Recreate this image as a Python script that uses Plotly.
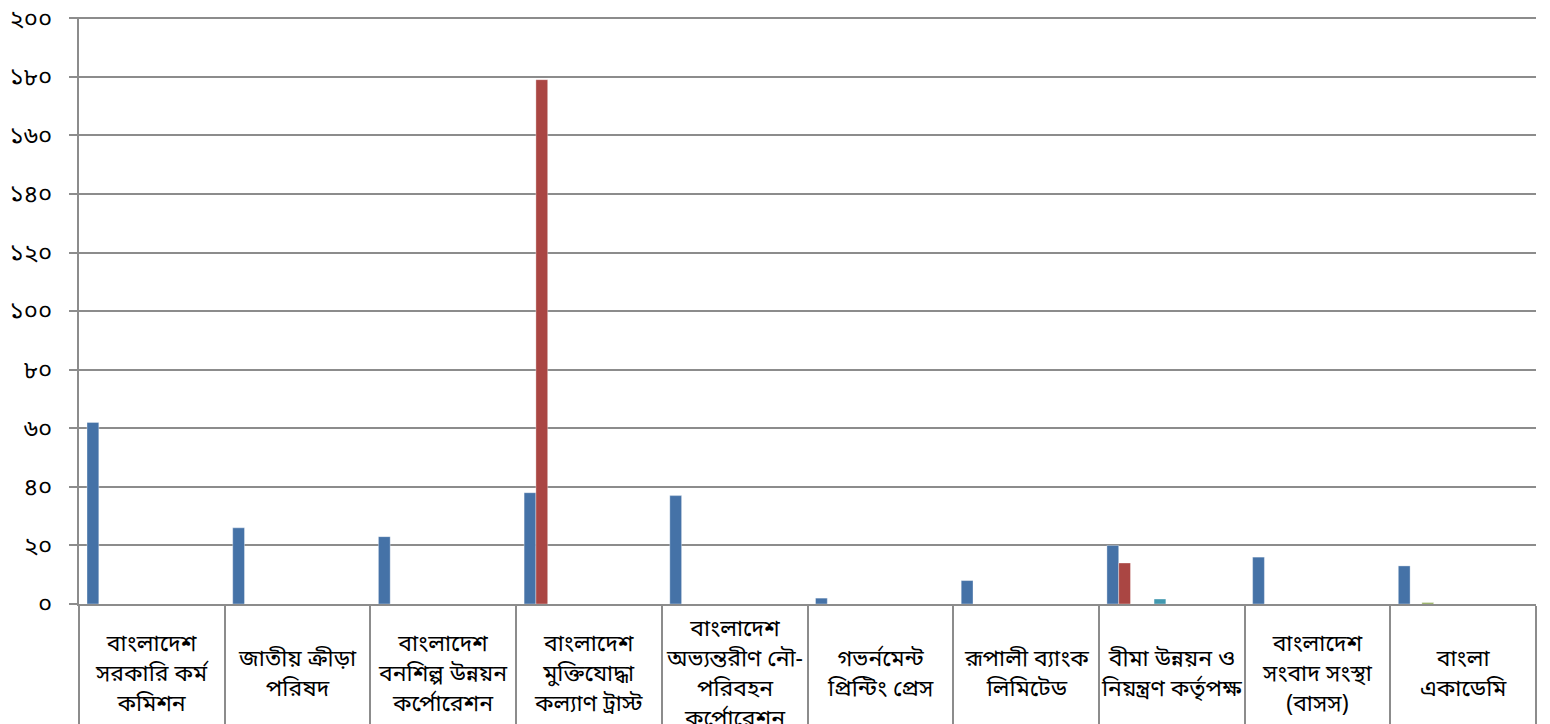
import plotly.graph_objects as go

categories = [
    "বাংলাদেশ<br>সরকারি কর্ম<br>কমিশন",
    "জাতীয় ক্রীড়া<br>পরিষদ",
    "বাংলাদেশ<br>বনশিল্প উন্নয়ন<br>কর্পোরেশন",
    "বাংলাদেশ<br>মুক্তিযোদ্ধা<br>কল্যাণ ট্রাস্ট",
    "বাংলাদেশ<br>অভ্যন্তরীণ নৌ-<br>পরিবহন<br>কর্পোরেশন",
    "গভর্নমেন্ট<br>প্রিন্টিং প্রেস",
    "রূপালী ব্যাংক<br>লিমিটেড",
    "বীমা উন্নয়ন ও<br>নিয়ন্ত্রণ কর্তৃপক্ষ",
    "বাংলাদেশ<br>সংবাদ সংস্থা<br>(বাসস)",
    "বাংলা<br>একাডেমি",
]

series_names = ["সিরিজ ১", "সিরিজ ২", "সিরিজ ৩", "সিরিজ ৪", "সিরিজ ৫", "সিরিজ ৬",
                "সিরিজ ৭", "সিরিজ ৮", "সিরিজ ৯", "সিরিজ ১০", "সিরিজ ১১"]

s1 = [62, 26, 23, 38, 37, 2, 8, 20, 16, 13]
s2 = [0, 0, 0, 179, 0, 0, 0, 14, 0, 0]
s3 = [0, 0, 0, 0, 0, 0, 0, 0, 0, 0.5]
s4 = [0, 0, 0, 0, 0, 0, 0, 0, 0, 0]
s5 = [0, 0, 0, 0, 0, 0, 0, 1.7, 0, 0]
s6 = [0, 0, 0, 0, 0, 0, 0, 0, 0, 0]
s7 = [0, 0, 0, 0, 0, 0, 0, 0, 0, 0]
s8 = [0, 0, 0, 0, 0, 0, 0, 0, 0, 0]
s9 = [0, 0, 0, 0, 0, 0, 0, 0, 0, 0]
s10 = [0, 0, 0, 0, 0, 0, 0, 0, 0, 0]
s11 = [0, 0, 0, 0, 0, 0, 0, 0, 0, 0]
all_series = [s1, s2, s3, s4, s5, s6, s7, s8, s9, s10, s11]

colors = ["#4572A7", "#AA4643", "#89A54E", "#71588F", "#4198AF", "#DB843D",
          "#93A9CF", "#D19392", "#B9CD96", "#A99BBD", "#91C3D5"]

y_tickvals = [0, 20, 40, 60, 80, 100, 120, 140, 160, 180, 200]
y_ticktext = ["০", "২০", "৪০", "৬০", "৮০", "১০০", "১২০", "১৪০", "১৬০", "১৮০", "২০০"]

BN_FONT = "Vrinda, 'Nirmala UI', 'Noto Sans Bengali', 'Lohit Bengali', 'Noto Serif Bengali', sans-serif"

fig = go.Figure()
for name, vals, col in zip(series_names, all_series, colors):
    fig.add_trace(go.Bar(
        x=categories, y=vals, name=name,
        marker=dict(color=col, line=dict(color="rgba(255,255,255,0.35)", width=1)),
        showlegend=False,
    ))

for cat in categories:
    fig.add_annotation(
        x=cat, y=-0.121, xref="x", yref="paper",
        text=cat, showarrow=False, yanchor="middle", xanchor="center",
        align="center", font=dict(family=BN_FONT, size=23, color="black"),
    )

fig.update_layout(
    width=1550, height=724,
    margin=dict(l=79, r=14, t=17, b=120, autoexpand=False),
    paper_bgcolor="white", plot_bgcolor="white",
    barmode="group", bargap=0.11, bargroupgap=0,
    font=dict(family=BN_FONT, color="black"),
)
fig.update_xaxes(
    automargin=False,
    showticklabels=False, showgrid=False,
    showline=True, linecolor="#8C8C8C", linewidth=2,
    ticks="outside", tickson="boundaries", ticklen=125,
    tickcolor="#8C8C8C", tickwidth=2,
)
fig.update_yaxes(
    automargin=False,
    range=[0, 200.4], tickvals=y_tickvals, ticktext=y_ticktext,
    showgrid=True, gridcolor="#8C8C8C", gridwidth=2,
    showline=True, linecolor="#8C8C8C", linewidth=2,
    ticks="outside", ticklen=8, tickcolor="#8C8C8C", tickwidth=2,
    ticklabelstandoff=12, ticklabeloverflow="allow",
    tickfont=dict(family=BN_FONT, size=24, color="black"),
    zeroline=False,
)

fig.write_html("out.html", config={"displayModeBar": False},
               post_script="document.body.style.margin='0';")
